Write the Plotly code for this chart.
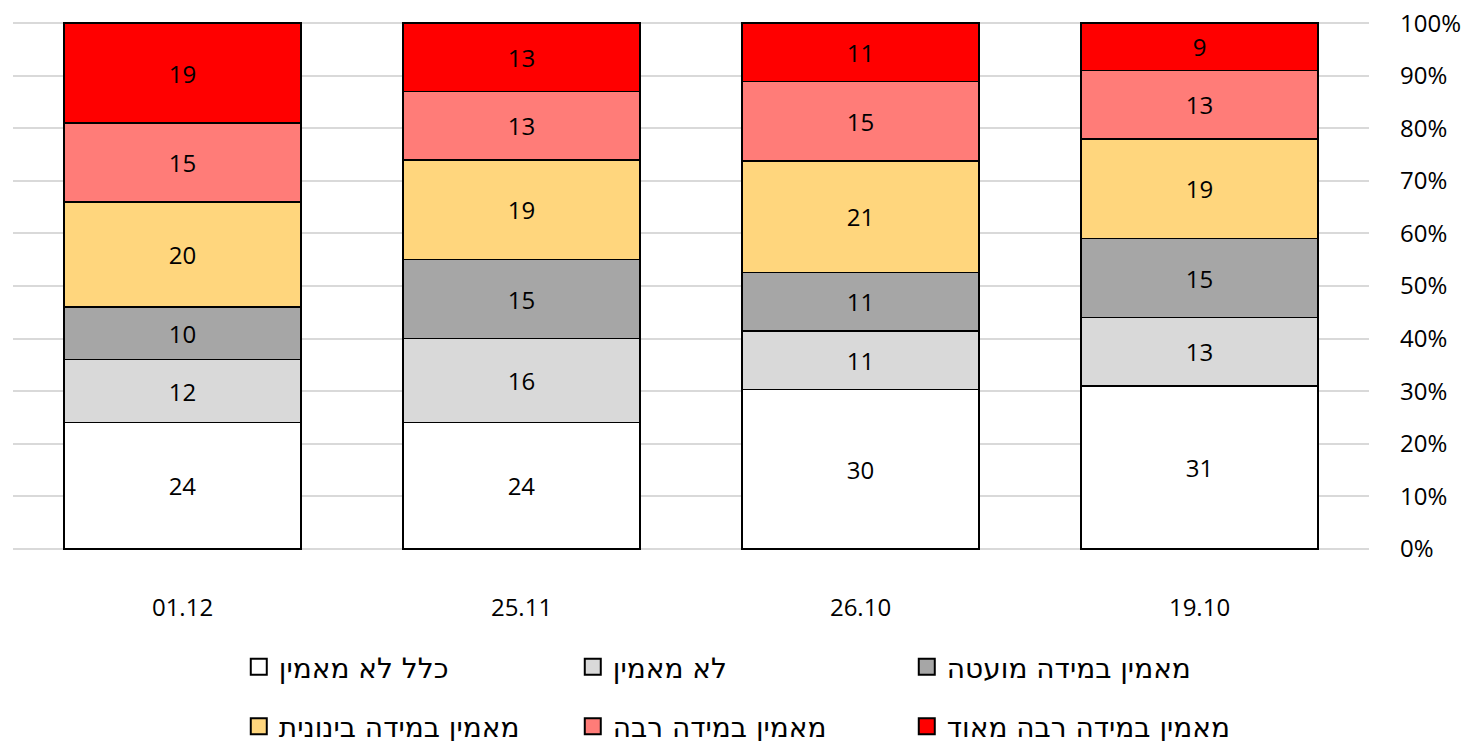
import plotly.graph_objects as go

# survey dates (left to right as drawn)
dates = ['01.12', '25.11', '26.10', '19.10']

# series names, bottom to top
series_names = [
    'כלל לא מאמין',
    'לא מאמין',
    'מאמין במידה מועטה',
    'מאמין במידה בינונית',
    'מאמין במידה רבה',
    'מאמין במידה רבה מאוד',
]

not_at_all = [24, 24, 30, 31]
not_believe = [12, 16, 11, 13]
small_extent = [10, 15, 11, 15]
medium_extent = [20, 19, 21, 19]
large_extent = [15, 13, 15, 13]
very_large_extent = [19, 13, 11, 9]

series_values = [not_at_all, not_believe, small_extent,
                 medium_extent, large_extent, very_large_extent]

colors = ['#ffffff', '#d9d9d9', '#a6a6a6', '#ffd67d', '#ff7c78', '#ff0000']

y_ticks = list(range(0, 101, 10))
y_tick_labels = [f'{v}%' for v in y_ticks]

FONT = 'Open Sans, DejaVu Sans, sans-serif'
LEGEND_FONT = 'DejaVu Sans, sans-serif'

fig = go.Figure()
for i, (name, vals) in enumerate(zip(series_names, series_values)):
    fig.add_trace(go.Bar(
        x=dates,
        y=vals,
        name=name,
        text=vals,
        textposition='inside',
        insidetextanchor='middle',
        textangle=0,
        constraintext='none',
        textfont=dict(size=24, color='black', family=FONT),
        marker=dict(color=colors[i], line=dict(color='black', width=1.5)),
        showlegend=False,
    ))

# legend entries with larger square swatches (legend only, no data drawn)
for i, name in enumerate(series_names):
    fig.add_trace(go.Scatter(
        x=[None],
        y=[None],
        mode='markers',
        name=name,
        marker=dict(symbol='square', size=17, color=colors[i],
                    line=dict(color='black', width=2)),
        legend='legend' if i < 3 else 'legend2',
        hoverinfo='skip',
    ))

legend_common = dict(
    orientation='h',
    xanchor='left',
    x=0.1665,
    yanchor='middle',
    entrywidth=289,
    itemsizing='trace',
    font=dict(size=28, color='black', family=LEGEND_FONT),
    bgcolor='rgba(0,0,0,0)',
    traceorder='normal',
)

# page has an 8px body margin, so the figure is a bit smaller than the window
fig.update_layout(
    barmode='stack',
    barnorm='percent',
    bargap=0.3,
    width=1473,
    height=733,
    margin=dict(l=5, r=112, t=13, b=190, autoexpand=False),
    plot_bgcolor='white',
    paper_bgcolor='white',
    font=dict(family=FONT, size=24, color='black'),
    showlegend=True,
    legend=dict(y=-0.219, **legend_common),
    legend2=dict(y=-0.331, **legend_common),
    xaxis=dict(
        automargin=False,
        showline=False,
        ticks='',
        ticklabelstandoff=40,
        tickfont=dict(size=24, color='black'),
    ),
    yaxis=dict(
        automargin=False,
        side='right',
        # padded slightly so the 0% and 100% gridlines are still drawn
        range=[-0.4, 100.4],
        tickvals=y_ticks,
        ticktext=y_tick_labels,
        ticklabeloverflow='allow',
        showgrid=True,
        gridcolor='#d9d9d9',
        gridwidth=2,
        zeroline=False,
        showline=False,
        ticks='',
        ticklabelstandoff=30,
        tickfont=dict(size=24, color='black'),
    ),
)

fig.write_html('out.html')
